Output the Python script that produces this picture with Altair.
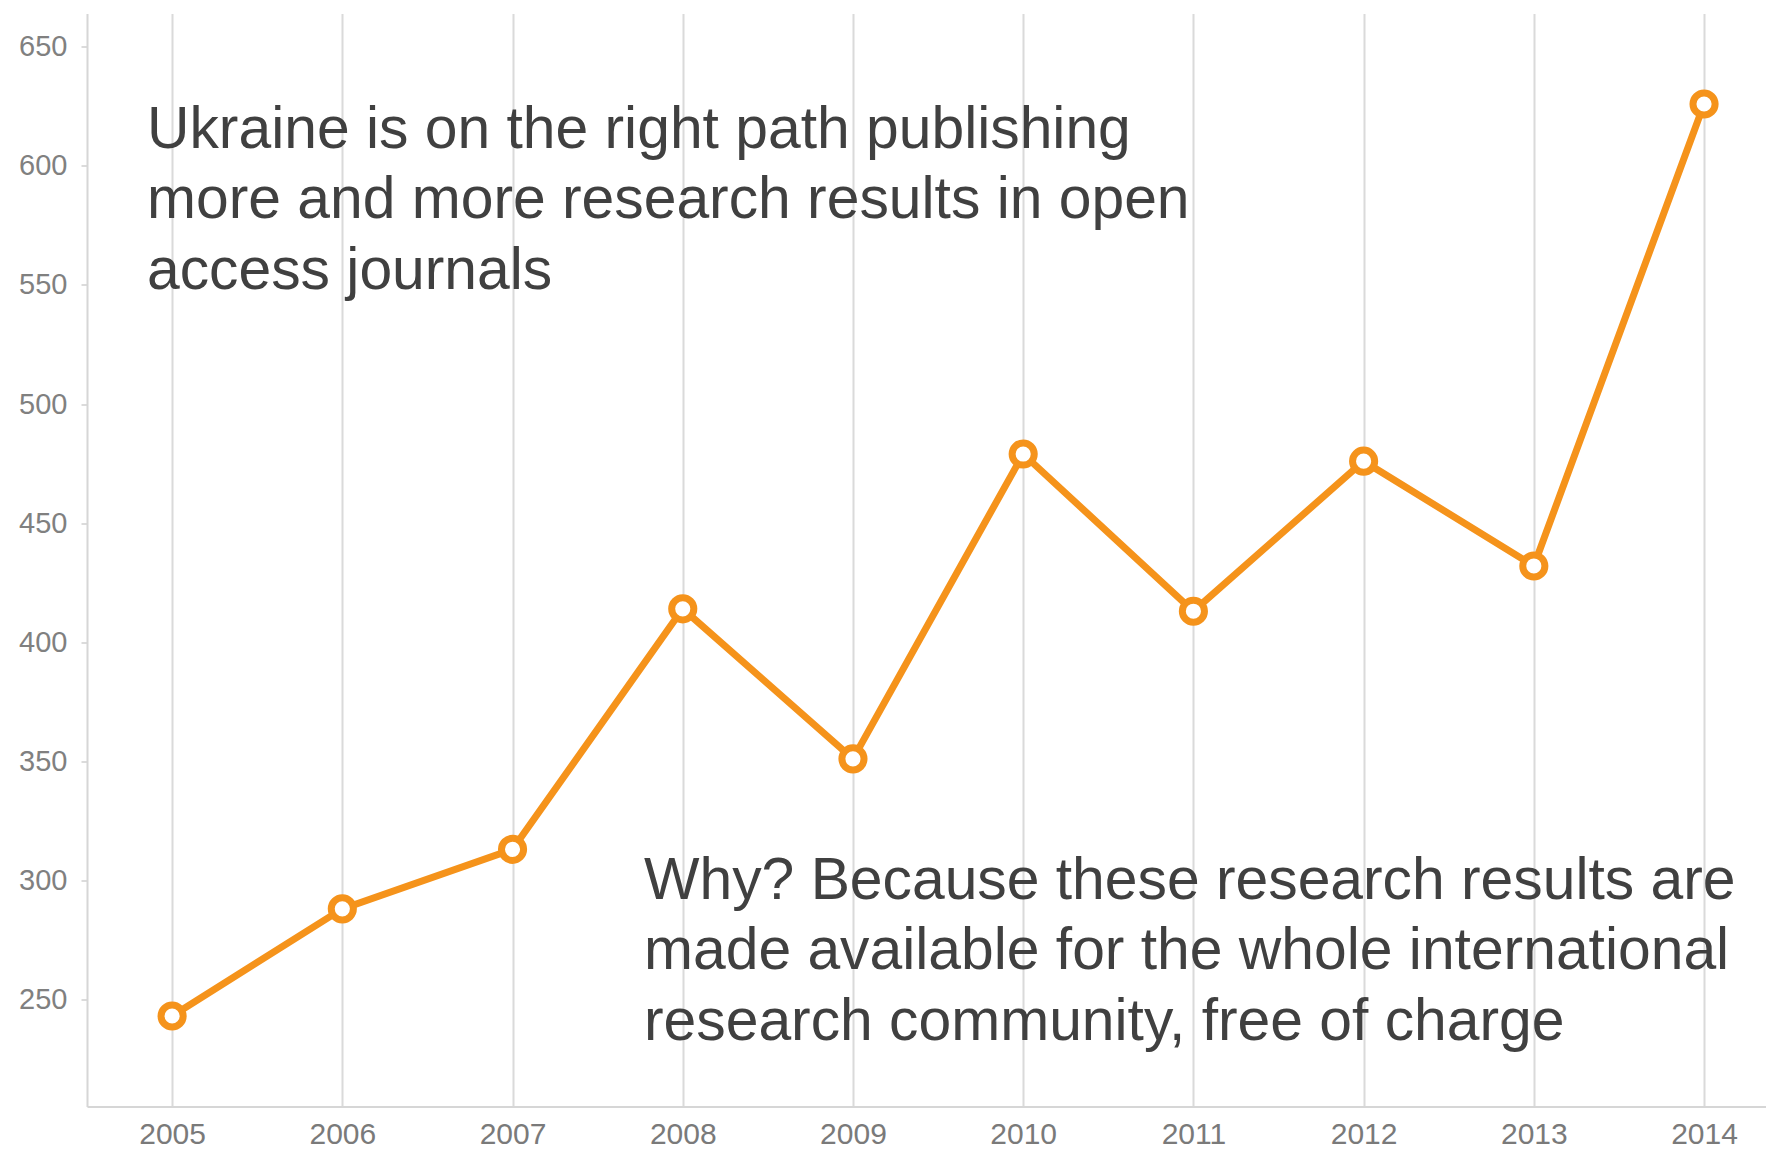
import altair as alt
import pandas as pd

years = [2005, 2006, 2007, 2008, 2009, 2010, 2011, 2012, 2013, 2014]
counts = [243, 288, 313, 414, 351, 479, 413, 476, 432, 626]
y_ticks = [250, 300, 350, 400, 450, 500, 550, 600, 650]

note_top = ["Ukraine is on the right path publishing",
            "more and more research results in open",
            "access journals"]
note_bottom = ["Why? Because these research results are",
               "made available for the whole international",
               "research community, free of charge"]

df = pd.DataFrame({"year": years, "count": counts})

ORANGE = "#F5931B"
GRID = "#dadada"
FONT = "Liberation Sans"

x_enc = alt.X("year:Q",
              scale=alt.Scale(domain=[2004.5, 2014.364], nice=False, zero=False),
              axis=alt.Axis(values=years, format="d", title=None, grid=True,
                            gridColor=GRID, gridWidth=2, tickSize=0,
                            labelPadding=13, labelFontSize=30, labelColor="#7a7a7a",
                            labelFont=FONT, domainColor="#d6d6d6", domainWidth=2))
y_enc = alt.Y("count:Q",
              scale=alt.Scale(domain=[205, 664], nice=False, zero=False),
              axis=alt.Axis(values=y_ticks, title=None, grid=False, tickSize=6,
                            tickColor="#cfcfcf", tickWidth=1.5,
                            labelPadding=14, labelFontSize=29, labelColor="#808080",
                            labelFont=FONT, domainColor="#d6d6d6", domainWidth=2))

base = alt.Chart(df)
line = base.mark_line(color=ORANGE, strokeWidth=7).encode(x=x_enc, y=y_enc)
pts = base.mark_point(shape="circle", filled=True, fill="white", stroke=ORANGE,
                      strokeWidth=7, size=490, opacity=1).encode(x=x_enc, y=y_enc)

one = alt.Data(values=[{"k": 1}])
t1 = alt.Chart(one).mark_text(align="left", baseline="alphabetic", font=FONT,
                              fontSize=58.8, lineHeight=70.7, color="#404040").encode(
    x=alt.value(60), y=alt.value(134), text=alt.value(note_top))
t2 = alt.Chart(one).mark_text(align="left", baseline="alphabetic", font=FONT,
                              fontSize=58.8, lineHeight=70.7, color="#404040").encode(
    x=alt.value(557), y=alt.value(885), text=alt.value(note_bottom))

chart = alt.layer(line, pts, t1, t2).properties(
    width=1679, height=1093,
    autosize=alt.AutoSizeParams(type="none"),
    padding={"left": 79, "top": 5.5, "right": 0, "bottom": 43.5},
    background="white",
).configure_view(stroke=None)

chart.save("out.html", embed_options={"renderer": "svg", "actions": False})
